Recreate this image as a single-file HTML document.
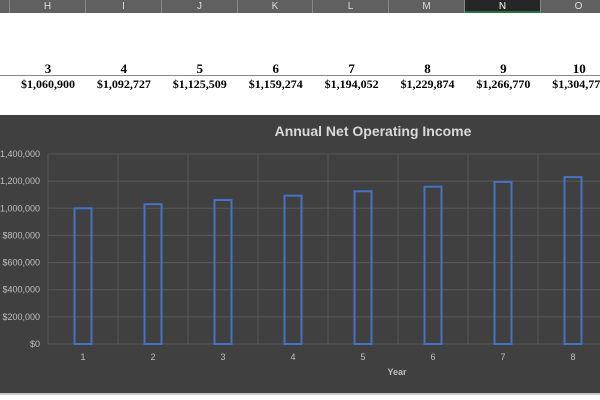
<!DOCTYPE html>
<html><head><meta charset="utf-8"><style>
body{margin:0;width:600px;height:400px;overflow:hidden;background:#fff;font-family:"Liberation Sans",sans-serif;position:relative}
.hdr{position:absolute;top:0;height:13px;background:#606060;color:#ddd;font-size:10px;text-align:center;line-height:13px;border-right:1px solid #888;box-sizing:border-box}
.num{position:absolute;top:61px;font:bold 13px "Liberation Serif",serif;text-align:center;width:76px}
.val{position:absolute;top:77px;font:bold 12px "Liberation Serif",serif;text-align:center;width:76px}
</style></head><body>
<div>
<div class="hdr" style="left:10px;width:76px">H</div>
<div class="hdr" style="left:86px;width:76px">I</div>
<div class="hdr" style="left:162px;width:76px">J</div>
<div class="hdr" style="left:238px;width:75px">K</div>
<div class="hdr" style="left:313px;width:76px">L</div>
<div class="hdr" style="left:389px;width:76px">M</div>
<div class="hdr" style="left:465px;width:76px;background:#262626;border-bottom:2px solid #217346;color:#fff">N</div>
<div class="hdr" style="left:541px;width:76px">O</div>
<div class="hdr" style="left:0;width:10px"></div>
</div>
<div style="position:absolute;left:0;top:75px;width:600px;height:1px;background:#888"></div>
<div id="cells"></div>
<div style="position:absolute;left:0;top:115px;width:600px;height:278px;background:#404040">
<svg width="600" height="278" id="svg"></svg>
</div>
<div style="position:absolute;left:0;top:393px;width:600px;height:2px;background:#ccc"></div>
<script>
const years=[3,4,5,6,7,8,9,10];
const yearValues=["$1,060,900","$1,092,727","$1,125,509","$1,159,274","$1,194,052","$1,229,874","$1,266,770","$1,304,773"];
const categories=["1","2","3","4","5","6","7","8"];
const values=[1000000,1030000,1060900,1092727,1125509,1159274,1194052,1229874];
const yTicks=[0,200000,400000,600000,800000,1000000,1200000,1400000];
const yTickLabels=["$0","$200,000","$400,000","$600,000","$800,000","$1,000,000","$1,200,000","$1,400,000"];
const cells=document.getElementById('cells');
years.forEach((y,i)=>{
 const a=document.createElement('div');a.className='num';a.style.left=(10+i*75.9)+'px';a.textContent=y;
 
 
 cells.appendChild(a);
 const b=document.createElement('div');b.className='val';b.style.left=(10+i*75.9)+'px';b.textContent=yearValues[i];
 
 
 cells.appendChild(b);
});
const svg=document.getElementById('svg');const NS='http://www.w3.org/2000/svg';
const top0=115,x0=48,step=70,y0=344-top0,yTop=154-top0;
const Y=v=>y0-(v/1400000)*(y0-yTop);
const X=i=>x0+step*i+step/2;
function el(t,a,txt){const e=document.createElementNS(NS,t);for(const k in a)e.setAttribute(k,a[k]);if(txt!==undefined)e.textContent=txt;svg.appendChild(e);return e;}
const ti=el('text',{x:373,y:21,'font-size':14,'font-weight':'bold',fill:'#d9d9d9','text-anchor':'middle'},'Annual Net Operating Income');


yTicks.forEach((t,i)=>{
 const l=el('line',{x1:x0,x2:600,y1:Y(t),y2:Y(t),stroke:'#595959','stroke-width':1});
 
 
 const tx=el('text',{x:40,y:Y(t)+3,'font-size':9,fill:'#bfbfbf','text-anchor':'end'},yTickLabels[i]);
 
 
});
for(let i=0;i<=8;i++){
 const l=el('line',{x1:x0+step*i,x2:x0+step*i,y1:yTop,y2:y0,stroke:'#595959','stroke-width':1});
 
 
}
values.forEach((v,i)=>{
 const r=el('rect',{x:X(i)-8.5,y:Y(v),width:17,height:y0-Y(v),fill:'none',stroke:'#4472c4','stroke-width':2});
 
 
 const t=el('text',{x:X(i),y:y0+16,'font-size':9,fill:'#bfbfbf','text-anchor':'middle'},categories[i]);
 
 
});
const xt=el('text',{x:397,y:260,'font-size':9,'font-weight':'bold',fill:'#bfbfbf','text-anchor':'middle'},'Year');


</script>
</body></html>
